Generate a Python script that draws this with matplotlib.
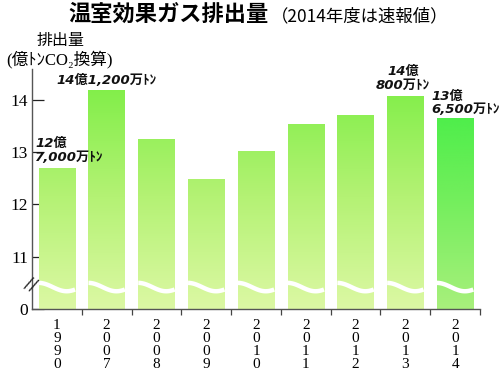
import numpy as np
import matplotlib
matplotlib.use('Agg')
import matplotlib.pyplot as plt
from matplotlib.colors import LinearSegmentedColormap

plt.rcParams['font.family'] = ['Liberation Serif', 'Noto Sans CJK JP']

years = ['1990', '2007', '2008', '2009', '2010', '2011', '2012', '2013', '2014']
values = [12.70, 14.19, 13.26, 12.49, 13.03, 13.54, 13.71, 14.08, 13.65]
labels = {0: '12億\n7,000万ﾄﾝ', 1: '14億1,200万ﾄﾝ', 7: '14億\n800万ﾄﾝ', 8: '13億\n6,500万ﾄﾝ'}
yticks = [10, 11, 12, 13, 14]
yticklabels = ['0', '11', '12', '13', '14']
base = 10

fig = plt.figure(figsize=(5, 3.78), dpi=100)
ax = fig.add_axes([0.064, 0.1825, 0.896, 0.636])

x = np.arange(len(years))
bars = ax.bar(x, [v - base for v in values], bottom=base, width=0.73,
              color='none', edgecolor='none', zorder=1)

# gradient fills
normal = LinearSegmentedColormap.from_list('g', ['#dcf8a4', '#b4f274', '#80ee48'])
last = LinearSegmentedColormap.from_list('g2', ['#a8f07c', '#72ee5c', '#40ee44'])
grad = np.linspace(0, 1, 256).reshape(-1, 1)
for i, b in enumerate(bars):
    cm = last if i == len(bars) - 1 else normal
    im = ax.imshow(grad, cmap=cm, origin='lower', aspect='auto',
                   extent=[b.get_x(), b.get_x() + b.get_width(), base, 14.3],
                   zorder=1)
    im.set_clip_path(b)
    # white wavy break line
    t = np.linspace(0, 1, 50)
    wx = b.get_x() + t * b.get_width()
    wy = 10.42 + 0.08 * np.cos(t * 1.3 * np.pi)
    ax.plot(wx, wy, color='white', lw=3.2, zorder=2, solid_capstyle='butt')

ax.set_xlim(-0.5, len(years) - 0.5)
ax.set_ylim(base, 14.6)

ax.spines['top'].set_visible(False)
ax.spines['right'].set_visible(False)
for s in ['left', 'bottom']:
    ax.spines[s].set_color('#555555')
    ax.spines[s].set_linewidth(1.0)

ax.set_yticks(yticks)
ax.set_yticklabels(yticklabels, fontsize=12.5)
ax.tick_params(axis='y', direction='in', length=8.5, width=0.9, color='#222222', pad=3)
ax.set_axisbelow(True)

ax.set_xticks(x)
ax.set_xticklabels(['\n'.join(y) for y in years], fontsize=11, linespacing=1.0,
                   va='top')
ax.tick_params(axis='x', length=0, pad=7)
ax.set_xticks(np.arange(len(years)) + 0.5, minor=True)
ax.tick_params(axis='x', which='minor', direction='out', length=4, width=0.9, color='#444444')

# axis break marks
ax.text(-0.52, 10.46, '//', fontsize=12, rotation=-25, ha='center', va='center',
        clip_on=False, family='DejaVu Sans', zorder=6, color='#222222')

# value labels
lab_font = dict(fontsize=9.5, fontweight='bold', style='italic',
                family=['DejaVu Sans', 'Noto Sans CJK JP'], color='#111111')
ax.text(-0.44, 12.78, labels[0], ha='left', va='bottom', linespacing=1.05, **lab_font)
ax.text(1.0, 14.24, labels[1], ha='center', va='bottom', **lab_font)
ax.text(6.95, 14.16, labels[7], ha='center', va='bottom', linespacing=1.05, **lab_font)
ax.text(7.52, 13.69, labels[8], ha='left', va='bottom', linespacing=1.05, **lab_font)

# titles
fig.text(0.136, 0.962, '温室効果ガス排出量', fontsize=16, fontweight='bold',
         family='Noto Sans CJK JP', ha='left', va='center')
fig.text(0.542, 0.958, '（2014年度は速報値）', fontsize=12.5,
         family='Noto Sans CJK JP', ha='left', va='center')
fig.text(0.074, 0.893, '排出量', fontsize=11.5, family='Noto Sans CJK JP',
         ha='left', va='center')
fig.text(0.012, 0.842, '(億ﾄﾝCO₂換算)', fontsize=12,
         family=['Liberation Serif', 'Noto Sans CJK JP', 'DejaVu Sans'],
         ha='left', va='center')

fig.savefig('out.png', dpi=100)
